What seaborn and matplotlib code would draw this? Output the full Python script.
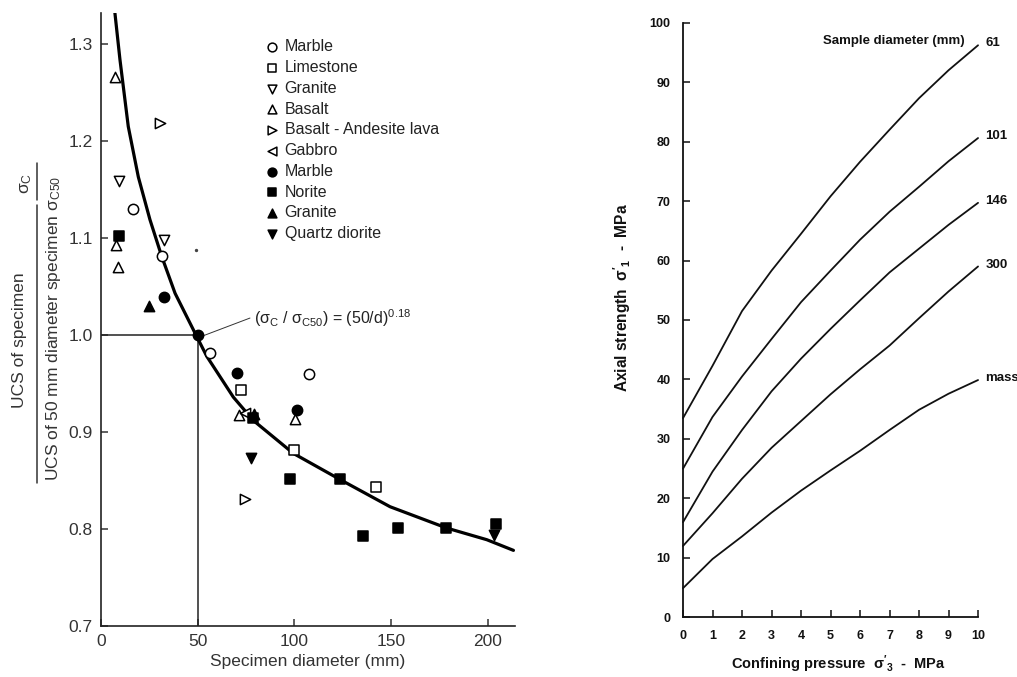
import matplotlib
matplotlib.use("Agg")
import matplotlib.pyplot as plt
from matplotlib.lines import Line2D
import seaborn as sns
import pandas as pd

sns.set_style("ticks")
plt.rcParams['font.family'] = ['Liberation Sans', 'DejaVu Sans']
plt.rcParams['mathtext.default'] = 'regular'
plt.rcParams['xtick.direction'] = 'in'
plt.rcParams['ytick.direction'] = 'in'

# 左图：试样直径 (mm) 与强度比
marble_open_d = [16.4, 31.7, 56.4, 107.7]
marble_open_r = [1.130, 1.081, 0.981, 0.960]
limestone_d = [72.2, 99.8, 142.2]
limestone_r = [0.943, 0.881, 0.843]
granite_open_d = [9.3, 32.6]
granite_open_r = [1.159, 1.098]
basalt_d = [7.2, 7.6, 8.9, 71.5, 100.3]
basalt_r = [1.266, 1.093, 1.070, 0.918, 0.913]
lava_d = [30.5, 74.5]
lava_r = [1.219, 0.831]
gabbro_d = [74.5]
gabbro_r = [0.920]
marble_fill_d = [32.6, 50.0, 70.5, 101.2]
marble_fill_r = [1.039, 1.000, 0.961, 0.923]
norite_d = [9.5, 78.4, 97.7, 123.6, 135.6, 153.4, 178.2, 204.1]
norite_r = [1.102, 0.914, 0.852, 0.852, 0.793, 0.801, 0.801, 0.805]
granite_fill_d = [25.0, 79.1]
granite_fill_r = [1.030, 0.919]
diorite_d = [77.6, 203.2]
diorite_r = [0.873, 0.794]

# 拟合曲线 (σc/σc50) = (50/d)^0.18
curve_d = [7.2, 9.8, 14.1, 19.3, 25.3, 31.4, 38.3, 48.6, 54.7, 68.4, 78.7,
           99.4, 123.6, 149.4, 178.7, 199.4, 213.2]
curve_r = [1.332, 1.284, 1.215, 1.163, 1.119, 1.081, 1.043, 1.002, 0.978,
           0.936, 0.912, 0.878, 0.851, 0.823, 0.801, 0.789, 0.778]

# 右图：围压与轴向强度
sigma3 = [0, 1, 2, 3, 4, 5, 6, 7, 8, 9, 10]
s61 = [33.5, 42.3, 51.5, 58.3, 64.5, 70.8, 76.6, 82.0, 87.3, 92.0, 96.2]
s101 = [25.0, 33.7, 40.5, 46.8, 53.0, 58.3, 63.5, 68.2, 72.4, 76.7, 80.6]
s146 = [16.0, 24.5, 31.5, 38.0, 43.5, 48.5, 53.3, 58.0, 62.0, 66.0, 69.7]
s300 = [12.0, 17.5, 23.3, 28.5, 33.0, 37.5, 41.7, 45.7, 50.3, 54.8, 59.0]
smass = [4.9, 9.8, 13.6, 17.6, 21.3, 24.7, 28.0, 31.5, 34.9, 37.6, 39.9]
curve_names = ['61', '101', '146', '300', 'mass']

fig = plt.figure(figsize=(10.17, 6.77), dpi=100)

# ---------------- 左图 ----------------
ax1 = fig.add_axes([0.0993, 0.0753, 0.4071, 0.9055])

series = [
    ('Marble', marble_open_d, marble_open_r, 'o', 'white'),
    ('Limestone', limestone_d, limestone_r, 's', 'white'),
    ('Granite', granite_open_d, granite_open_r, 'v', 'white'),
    ('Basalt', basalt_d, basalt_r, '^', 'white'),
    ('Basalt - Andesite lava', lava_d, lava_r, '>', 'white'),
    ('Gabbro', gabbro_d, gabbro_r, '<', 'white'),
    ('Marble', marble_fill_d, marble_fill_r, 'o', 'black'),
    ('Norite', norite_d, norite_r, 's', 'black'),
    ('Granite', granite_fill_d, granite_fill_r, '^', 'black'),
    ('Quartz diorite', diorite_d, diorite_r, 'v', 'black'),
]

ax1.plot([0, 50], [1.0, 1.0], color='#222222', lw=1.1, zorder=1)
ax1.plot([50, 50], [0.7, 1.0], color='#222222', lw=1.1, zorder=1)
sns.lineplot(x=curve_d, y=curve_r, sort=False, color='black', lw=2.3,
             ax=ax1, zorder=2)

for name, d, r, m, fc in series:
    sns.scatterplot(x=d, y=r, marker=m, s=55, color=fc, edgecolor='black',
                    linewidth=1.1, label=name, ax=ax1, zorder=3)

ax1.scatter([49.0], [1.088], s=2, color='#444444')

ax1.plot([51.2, 77.0], [0.998, 1.0175], color='#333333', lw=0.7)
ax1.text(79.0, 1.0175,
         '(σ$_\\mathregular{C}$ / σ$_\\mathregular{C50}$) = (50/d)$^\\mathregular{0.18}$',
         fontsize=11.5, va='center', ha='left', color='#222222')

ax1.set_xlim(0, 214)
ax1.set_ylim(0.7, 1.332)
ax1.set_xticks([0, 50, 100, 150, 200])
ax1.set_yticks([0.7, 0.8, 0.9, 1.0, 1.1, 1.2, 1.3])
ax1.set_yticklabels(['0.7', '0.8', '0.9', '1.0', '1.1', '1.2', '1.3'])
ax1.tick_params(labelsize=12.5, length=5, width=1.1, pad=6, colors='#333333')
ax1.set_xlabel('Specimen diameter (mm)', fontsize=12.5, color='#333333', labelpad=3)
for sp in ['top', 'right']:
    ax1.spines[sp].set_visible(False)
for sp in ['left', 'bottom']:
    ax1.spines[sp].set_linewidth(1.2)
    ax1.spines[sp].set_color('#222222')

leg = ax1.legend(loc='upper left', bbox_to_anchor=(0.397, 0.957), frameon=False,
                 fontsize=11.5, handlelength=0.8, handletextpad=0.4,
                 labelspacing=0.36, borderpad=0, borderaxespad=0,
                 markerscale=0.85)
for t in leg.get_texts():
    t.set_color('#222222')

# 左侧分数形式的纵轴标签
fig.text(26 / 1017, 1 - 183 / 677, 'σ$_\\mathregular{C}$', rotation=90,
         fontsize=12.5, ha='center', va='center', color='#333333')
fig.text(20 / 1017, 1 - 340 / 677, 'UCS of specimen', rotation=90,
         fontsize=12.5, ha='center', va='center', color='#333333')
fig.text(54 / 1017, 1 - 328 / 677,
         'UCS of 50 mm diameter specimen σ$_\\mathregular{C50}$', rotation=90,
         fontsize=12.5, ha='center', va='center', color='#333333')
fig.add_artist(Line2D([37 / 1017, 37 / 1017], [1 - 163 / 677, 1 - 200 / 677],
                      color='#333333', lw=1.1))
fig.add_artist(Line2D([37 / 1017, 37 / 1017], [1 - 205 / 677, 1 - 483 / 677],
                      color='#333333', lw=1.1))

# ---------------- 右图 ----------------
ax2 = fig.add_axes([0.6716, 0.0882, 0.2901, 0.8783])
df = pd.DataFrame({'sigma3': sigma3 * 5,
                   'sigma1': s61 + s101 + s146 + s300 + smass,
                   'diameter': [n for n in curve_names for _ in sigma3]})
for n in curve_names:
    sub = df[df['diameter'] == n]
    sns.lineplot(data=sub, x='sigma3', y='sigma1', color='#111111', lw=1.3,
                 ax=ax2, clip_on=False)
    ax2.text(10.25, sub['sigma1'].iloc[-1] + 0.3, n, fontsize=9.5,
             fontweight='bold', ha='left', va='center', color='#111111')

ax2.text(9.55, 96.9, 'Sample diameter (mm)', fontsize=9.5, fontweight='bold',
         ha='right', va='center', color='#111111')

ax2.set_xlim(0, 10)
ax2.set_ylim(0, 100)
ax2.set_xticks(range(0, 11))
ax2.set_yticks(range(0, 101, 10))
ax2.tick_params(labelsize=9, length=5, width=1.1, pad=9, colors='#111111')
for lab in ax2.get_xticklabels() + ax2.get_yticklabels():
    lab.set_fontweight('bold')
ax2.set_xlabel("Confining pressure  $\\sigma'_3$  -  MPa", fontsize=10.5,
               fontweight='bold', color='#111111')
ax2.set_ylabel("Axial strength  $\\sigma'_1$  -  MPa", fontsize=11.2,
               fontweight='bold', color='#111111')
ax2.xaxis.set_label_coords(0.528, -0.06)
ax2.yaxis.set_label_coords(-0.17, 0.537)
for sp in ['top', 'right']:
    ax2.spines[sp].set_visible(False)
for sp in ['left', 'bottom']:
    ax2.spines[sp].set_linewidth(1.3)
    ax2.spines[sp].set_color('#111111')

fig.savefig('out.png', dpi=100)
